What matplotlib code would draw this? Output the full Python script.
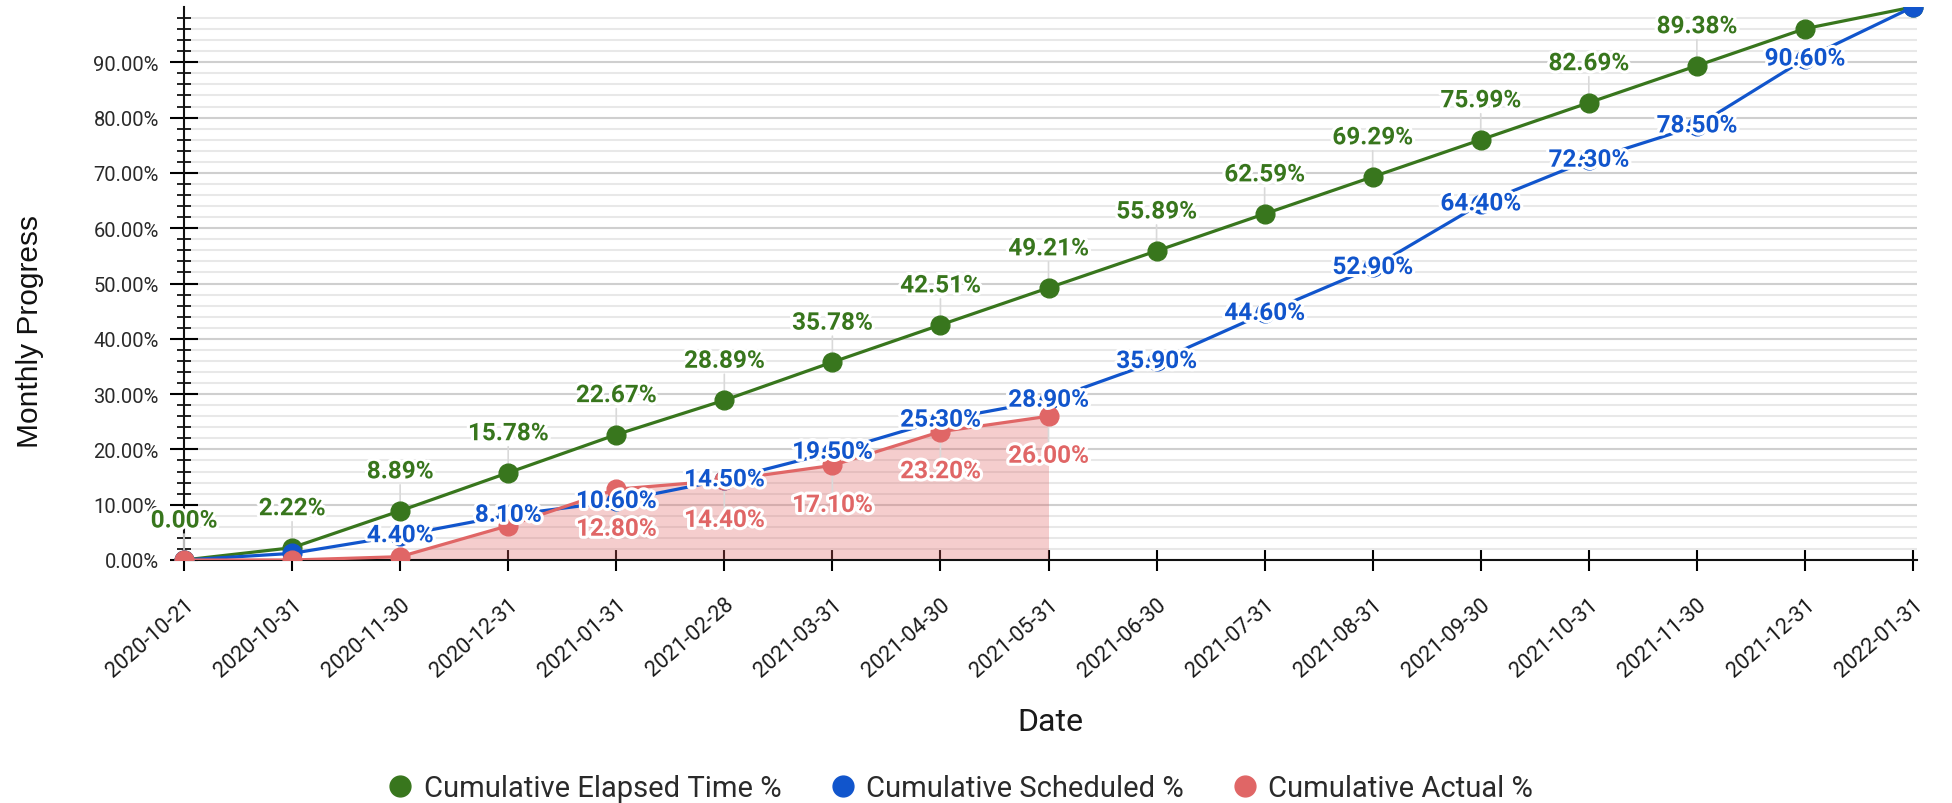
import matplotlib
matplotlib.use('Agg')
import matplotlib.pyplot as plt
import matplotlib.patheffects as pe
from matplotlib.patches import Rectangle
from matplotlib.lines import Line2D
from matplotlib.ticker import FixedLocator, FuncFormatter

dates = ['2020-10-21', '2020-10-31', '2020-11-30', '2020-12-31', '2021-01-31',
         '2021-02-28', '2021-03-31', '2021-04-30', '2021-05-31', '2021-06-30',
         '2021-07-31', '2021-08-31', '2021-09-30', '2021-10-31', '2021-11-30',
         '2021-12-31', '2022-01-31']
elapsed = [0.00, 2.22, 8.89, 15.78, 22.67, 28.89, 35.78, 42.51, 49.21, 55.89,
           62.59, 69.29, 75.99, 82.69, 89.38, 96.08, 100.00]
scheduled = [0.00, 1.20, 4.40, 8.10, 10.60, 14.50, 19.50, 25.30, 28.90, 35.90,
             44.60, 52.90, 64.40, 72.30, 78.50, 90.60, 100.00]
actual = [0.00, 0.00, 0.60, 6.20, 12.80, 14.40, 17.10, 23.20, 26.00]

# which data labels are visible in the chart
elapsed_shown = [True] * 15 + [False, False]
scheduled_shown = [False, False] + [True] * 14 + [False]
actual_shown = [False] * 4 + [True] * 5

GREEN = '#38761d'
BLUE = '#1155cc'
RED = '#e06666'

W, H = 1952, 804
fig = plt.figure(figsize=(W / 100, H / 100), dpi=100)
ax_left, ax_right, ax_bottom_px, ax_top_px = 184, 1917, 561, 8
ax = fig.add_axes([ax_left / W, 1 - ax_bottom_px / H,
                   (ax_right - ax_left) / W, (ax_bottom_px - ax_top_px) / H])

x = list(range(len(dates)))
xa = x[:len(actual)]

clip = Rectangle((-0.03, 0), 1.06, 1.0, transform=ax.transAxes, facecolor='none',
                 edgecolor='none')
ax.add_patch(clip)

ax.fill_between(xa, 0, actual, color=RED, alpha=0.32, linewidth=0, zorder=2)
lg, = ax.plot(x, elapsed, color=GREEN, lw=2.3, marker='o', ms=13.5, zorder=3)
lb, = ax.plot(x, scheduled, color=BLUE, lw=2.3, marker='o', ms=13.5, zorder=4)
lr, = ax.plot(xa, actual, color=RED, lw=2.3, marker='o', ms=13.5, zorder=5)
for ln in (lg, lb, lr):
    ln.set_clip_path(clip)

halo = [pe.withStroke(linewidth=4.5, foreground='white')]
lab_font = dict(family='Roboto', fontsize=17.5, fontweight='bold')
leader = dict(arrowstyle='-', color='#d9d9d9', lw=1.2, shrinkA=0, shrinkB=0)


def fmt(v):
    return f'{v:.2f}%'


for xi, v, s in zip(x, elapsed, elapsed_shown):
    if s:
        ax.annotate('', (xi, v), xytext=(0, 26), textcoords='offset pixels',
                    zorder=2.9, annotation_clip=False, arrowprops=leader)
        ax.annotate(fmt(v), (xi, v), xytext=(0, 39), textcoords='offset pixels',
                    ha='center', va='center', color=GREEN, path_effects=halo,
                    zorder=10, annotation_clip=False, **lab_font)
for xi, v, s in zip(x, scheduled, scheduled_shown):
    if s:
        ax.annotate(fmt(v), (xi, v), xytext=(0, 0), textcoords='offset pixels',
                    ha='center', va='center', color=BLUE, path_effects=halo,
                    zorder=11, annotation_clip=False, **lab_font)
for xi, v, s in zip(xa, actual, actual_shown):
    if s:
        ax.annotate('', (xi, v), xytext=(0, -28), textcoords='offset pixels',
                    zorder=2.9, annotation_clip=False, arrowprops=leader)
        ax.annotate(fmt(v), (xi, v), xytext=(0, -40), textcoords='offset pixels',
                    ha='center', va='center', color=RED, path_effects=halo,
                    zorder=10, annotation_clip=False, **lab_font)

ax.set_xlim(0, 16 * (ax_right - ax_left) / (1913 - ax_left))
ax.set_ylim(0, 100)

ax.set_xticks(x)
ax.set_xticklabels(dates, rotation=41, ha='right', va='top',
                   rotation_mode='anchor', family='Roboto', fontsize=15.5,
                   color='#1a1a1a')

ax.yaxis.set_major_locator(FixedLocator(list(range(0, 100, 10))))
ax.yaxis.set_minor_locator(FixedLocator([v for v in range(2, 100, 2) if v % 10]))
ax.yaxis.set_major_formatter(FuncFormatter(lambda v, p: f'{v:.2f}%'))
for t in ax.get_yticklabels():
    t.set_family('Roboto')
ax.tick_params(axis='y', which='major', direction='inout', length=20, width=1.5,
               pad=8, labelsize=14.5, labelcolor='#2a2a2a')
ax.tick_params(axis='y', which='minor', direction='inout', length=10, width=1.2)
ax.tick_params(axis='x', which='major', direction='inout', length=16, width=1.5,
               pad=16)

ax.yaxis.grid(True, which='major', color='#cfcfcf', lw=1.5, zorder=0)
ax.yaxis.grid(True, which='minor', color='#e8e8e8', lw=1.5, zorder=0)
ax.set_axisbelow(True)

for sp in ('top', 'right'):
    ax.spines[sp].set_visible(False)
for sp in ('left', 'bottom'):
    ax.spines[sp].set_linewidth(1.5)
    ax.spines[sp].set_color('#111111')

ax.set_xlabel('Date', family='Roboto', fontsize=23, color='#1a1a1a')
ax.xaxis.set_label_coords(0.5, (ax_bottom_px - 708) / (ax_bottom_px - ax_top_px))
ax.set_ylabel('Monthly Progress', family='Liberation Sans', fontsize=21.5,
              color='#111111')
ax.yaxis.set_label_coords((44 - ax_left) / (ax_right - ax_left),
                          (ax_bottom_px - 332) / (ax_bottom_px - ax_top_px))

handles = [Line2D([], [], ls='none', marker='o', ms=15, color=c)
           for c in (GREEN, BLUE, RED)]
fig.legend(handles, ['Cumulative Elapsed Time %', 'Cumulative Scheduled %',
                     'Cumulative Actual %'],
           loc='center', bbox_to_anchor=(958 / W, 1 - 789 / H), ncol=3,
           frameon=False, prop=dict(family='Roboto', size=21),
           handletextpad=0.2, handlelength=1.2, columnspacing=1.5,
           labelcolor='#2a2a2a')

fig.savefig('out.png', dpi=100)
